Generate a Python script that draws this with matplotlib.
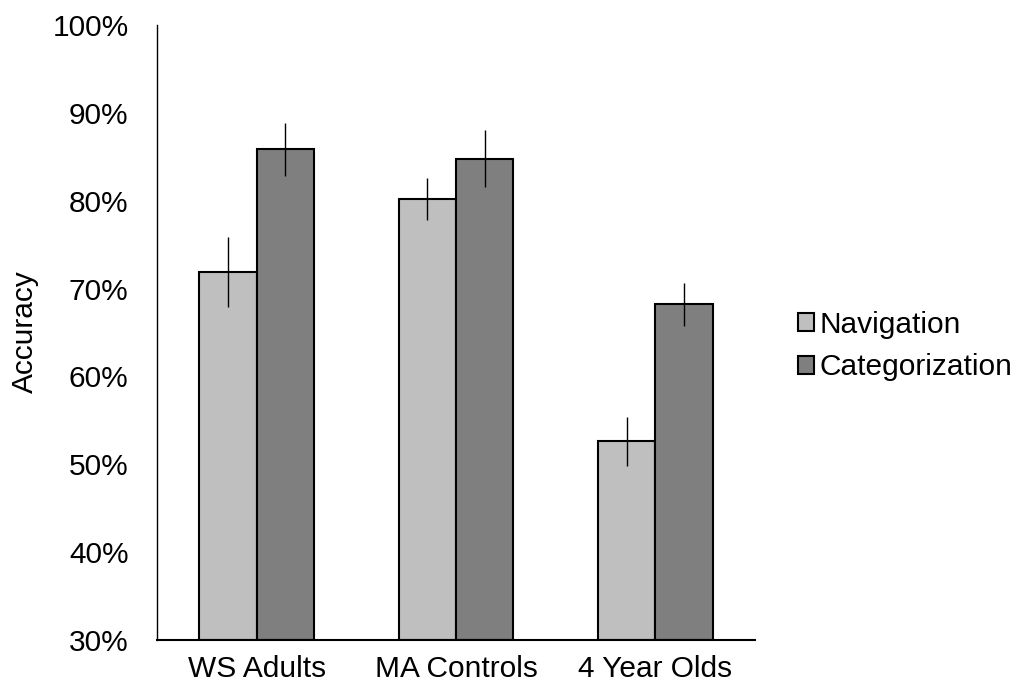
import matplotlib
matplotlib.use("Agg")
import matplotlib.pyplot as plt
import numpy as np
from matplotlib.ticker import PercentFormatter

categories = ["WS Adults", "MA Controls", "4 Year Olds"]
series_names = ["Navigation", "Categorization"]
navigation = [71.9, 80.2, 52.6]
navigation_err = [4.0, 2.35, 2.8]
categorization = [85.85, 84.8, 68.2]
categorization_err = [3.05, 3.2, 2.45]
y_ticks = [30, 40, 50, 60, 70, 80, 90, 100]

plt.rcParams['font.family'] = ['Liberation Sans', 'DejaVu Sans']
FS = 21.5

fig = plt.figure(figsize=(10.27, 6.82), dpi=100)
ax = fig.add_axes([157/1027, 1-640/682, (755-157)/1027, (640-25)/682])

x = np.arange(len(categories))
w = 0.2875
base = 30
nav_h = [v - base for v in navigation]
cat_h = [v - base for v in categorization]
ax.bar(x - w/2, nav_h, w, bottom=base, color="#BFBFBF", edgecolor="black",
       linewidth=1.5, label=series_names[0], zorder=2)
ax.bar(x + w/2, cat_h, w, bottom=base, color="#7F7F7F", edgecolor="black",
       linewidth=1.5, label=series_names[1], zorder=2)
ax.errorbar(x - w/2, navigation, yerr=navigation_err, fmt="none", ecolor="black",
            elinewidth=1.0, capsize=0, zorder=3)
ax.errorbar(x + w/2, categorization, yerr=categorization_err, fmt="none", ecolor="black",
            elinewidth=1.0, capsize=0, zorder=3)

ax.set_xlim(-0.5, 2.5)
ax.set_ylim(30, 100)
ax.set_yticks(y_ticks)
ax.yaxis.set_major_formatter(PercentFormatter(decimals=0))
ax.set_xticks(x)
ax.set_xticklabels(categories)
ax.tick_params(axis="y", length=0, pad=20.5, labelsize=FS)
ax.tick_params(axis="x", length=0, pad=11, labelsize=FS)
for s in ["top", "right"]:
    ax.spines[s].set_visible(False)
ax.spines["left"].set_linewidth(1.0)
ax.spines["bottom"].set_linewidth(1.5)

fig.text(25/1027, 1-332/682, "Accuracy", rotation=90, ha="center", va="center", fontsize=FS)

leg = ax.legend(loc="center left", bbox_to_anchor=(798/1027, 1-346/682),
                bbox_transform=fig.transFigure, frameon=False, fontsize=FS,
                handlelength=0.52, handleheight=0.52, handletextpad=0.2,
                labelspacing=0.5, borderpad=0, borderaxespad=0)

fig.savefig("out.png", dpi=100)
